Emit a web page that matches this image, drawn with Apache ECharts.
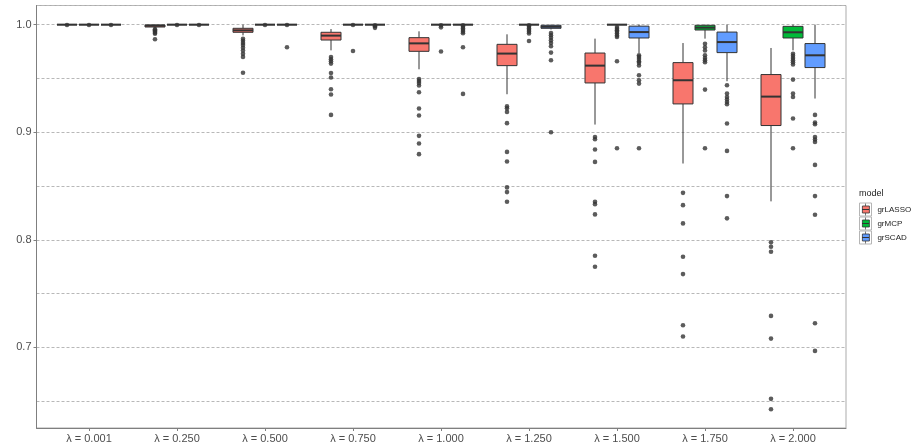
<!DOCTYPE html>
<html><head><meta charset="utf-8">
<script src="https://cdn.jsdelivr.net/npm/echarts@6/dist/echarts.min.js"></script>
<style>html,body{margin:0;padding:0;background:#fff}#c{width:913px;height:448px}</style>
</head><body><div id="c"></div>
<script>
// ---------- data ----------
const categories = ['λ = 0.001','λ = 0.250','λ = 0.500','λ = 0.750','λ = 1.000','λ = 1.250','λ = 1.500','λ = 1.750','λ = 2.000'];
const models = ['grLASSO','grMCP','grSCAD'];

// [lower whisker, Q1, median, Q3, upper whisker]
const lassoBoxes = [
  [1.0000, 1.0000, 1.0000, 1.0000, 1.0000],
  [0.9968, 0.9978, 0.9990, 0.9997, 1.0000],
  [0.9900, 0.9929, 0.9947, 0.9966, 1.0000],
  [0.9761, 0.9857, 0.9898, 0.9929, 0.9959],
  [0.9585, 0.9752, 0.9826, 0.9879, 0.9938],
  [0.9353, 0.9619, 0.9731, 0.9817, 0.9910],
  [0.9071, 0.9458, 0.9619, 0.9736, 0.9870],
  [0.8709, 0.9263, 0.9483, 0.9647, 0.9829],
  [0.8357, 0.9062, 0.9331, 0.9536, 0.9783]
];
const mcpBoxes = [
  [1.0000, 1.0000, 1.0000, 1.0000, 1.0000],
  [1.0000, 1.0000, 1.0000, 1.0000, 1.0000],
  [1.0000, 1.0000, 1.0000, 1.0000, 1.0000],
  [1.0000, 1.0000, 1.0000, 1.0000, 1.0000],
  [1.0000, 1.0000, 1.0000, 1.0000, 1.0000],
  [1.0000, 1.0000, 1.0000, 1.0000, 1.0000],
  [1.0000, 1.0000, 1.0000, 1.0000, 1.0000],
  [0.9870, 0.9950, 0.9972, 0.9994, 1.0000],
  [0.9761, 0.9876, 0.9929, 0.9984, 1.0000]
];
const scadBoxes = [
  [1.0000, 1.0000, 1.0000, 1.0000, 1.0000],
  [1.0000, 1.0000, 1.0000, 1.0000, 1.0000],
  [1.0000, 1.0000, 1.0000, 1.0000, 1.0000],
  [1.0000, 1.0000, 1.0000, 1.0000, 1.0000],
  [1.0000, 1.0000, 1.0000, 1.0000, 1.0000],
  [0.9955, 0.9966, 0.9980, 0.9994, 1.0000],
  [0.9736, 0.9876, 0.9931, 0.9986, 1.0000],
  [0.9474, 0.9740, 0.9838, 0.9931, 1.0000],
  [0.9313, 0.9601, 0.9715, 0.9824, 1.0000]
];

// outliers per category
const lassoOutliers = [
  [0.9997],
  [0.9958, 0.9947, 0.9936, 0.9925, 0.9916, 0.9864],
  [0.9868, 0.9850, 0.9830, 0.9810, 0.9785, 0.9760, 0.9730, 0.9700, 0.9553],
  [0.9699, 0.9678, 0.9660, 0.9638, 0.9551, 0.9508, 0.9399, 0.9350, 0.9161],
  [0.9495, 0.9476, 0.9458, 0.9434, 0.9371, 0.9220, 0.9155, 0.8966, 0.8895, 0.8796],
  [0.9240, 0.9222, 0.9189, 0.9084, 0.8817, 0.8728, 0.8487, 0.8443, 0.8353],
  [0.8956, 0.8935, 0.8839, 0.8724, 0.8353, 0.8331, 0.8236, 0.7851, 0.7749],
  [0.8436, 0.8322, 0.8152, 0.7842, 0.7681, 0.7205, 0.7100],
  [0.7976, 0.7935, 0.7889, 0.7292, 0.7081, 0.6521, 0.6425]
];
const mcpOutliers = [
  [0.9997],
  [0.9997],
  [0.9997],
  [0.9997, 0.9755],
  [0.9993, 0.9975, 0.9750],
  [0.9993, 0.9980, 0.9965, 0.9950, 0.9935, 0.9918, 0.9848],
  [0.9978, 0.9963, 0.9948, 0.9933, 0.9918, 0.9900, 0.9885, 0.9660, 0.8851],
  [0.9823, 0.9790, 0.9760, 0.9715, 0.9690, 0.9670, 0.9650, 0.9396, 0.8851],
  [0.9730, 0.9710, 0.9690, 0.9670, 0.9650, 0.9630, 0.9489, 0.9360, 0.9328, 0.9127, 0.8851]
];
const scadOutliers = [
  [0.9997],
  [0.9997],
  [0.9997, 0.9790],
  [0.9993, 0.9985, 0.9970],
  [0.9993, 0.9980, 0.9965, 0.9950, 0.9935, 0.9920, 0.9790, 0.9356],
  [0.9922, 0.9901, 0.9879, 0.9854, 0.9829, 0.9799, 0.9740, 0.9669, 0.9000],
  [0.9715, 0.9700, 0.9680, 0.9660, 0.9645, 0.9620, 0.9529, 0.9483, 0.9452, 0.8851],
  [0.9436, 0.9360, 0.9328, 0.9304, 0.9281, 0.9260, 0.9081, 0.8826, 0.8406, 0.8199],
  [0.9161, 0.9090, 0.9074, 0.8956, 0.8932, 0.8910, 0.8696, 0.8406, 0.8233, 0.7224, 0.6967]
];

// ---------- layout / style ----------
const FONT = 'Liberation Sans, Arial, sans-serif';
const colors = ['#F8766D', '#00BA38', '#619CFF'];
const Y_MIN = 0.625, Y_MAX = 1.0178;
const PANEL = {left: 36.5, top: 5.5, width: 809.5, height: 422.5};
const BAND = 88, FIRST_CENTER = 89;
const dodge = [-22, 0, 22];
const BOX_W = 20;
const INK = '#333333';

const boxes = [lassoBoxes, mcpBoxes, scadBoxes];
const outliers = [lassoOutliers, mcpOutliers, scadOutliers];

const grids = [Object.assign({show: true, borderColor: '#ababab', borderWidth: 1}, PANEL)];
dodge.forEach(d => grids.push({
  left: FIRST_CENTER - BAND / 2 + d, top: PANEL.top,
  width: BAND * categories.length, height: PANEL.height
}));

const xAxes = [{
  type: 'value', gridIndex: 0, min: 0, max: 1,
  axisLine: {show: true, lineStyle: {color: '#7f7f7f', width: 1}},
  axisTick: {show: false}, axisLabel: {show: false}, splitLine: {show: false}
}];
const yAxes = [{
  type: 'value', gridIndex: 0, min: Y_MIN, max: Y_MAX,
  minInterval: 0.1, maxInterval: 0.1,
  axisLine: {show: true, lineStyle: {color: '#7f7f7f', width: 1}},
  axisTick: {show: true, length: 3, lineStyle: {color: '#7f7f7f'}},
  axisLabel: {
    margin: 5, color: '#4d4d4d', fontSize: 11, fontFamily: FONT,
    showMinLabel: false, showMaxLabel: false,
    formatter: v => (Math.abs(v * 10 - Math.round(v * 10)) < 1e-6 ? v.toFixed(1) : '')
  },
  splitLine: {show: true, lineStyle: {color: '#b8b8b8', type: [3, 2], width: 1}},
  minorTick: {show: false, splitNumber: 2},
  minorSplitLine: {show: true, lineStyle: {color: '#b8b8b8', type: [3, 2], width: 1}}
}];
dodge.forEach((d, i) => {
  const center = i === 1;
  xAxes.push({
    type: 'category', gridIndex: i + 1, data: categories, boundaryGap: true,
    axisLine: {show: false},
    axisTick: {show: center, alignWithLabel: true, length: 3, lineStyle: {color: '#7f7f7f'}},
    axisLabel: {show: center, margin: 5, color: '#4d4d4d', fontSize: 11, fontFamily: FONT},
    splitLine: {show: false}
  });
  yAxes.push({type: 'value', gridIndex: i + 1, min: Y_MIN, max: Y_MAX, show: false, splitLine: {show: false}});
});

function makeBoxRenderer(fill) {
  return function (params, api) {
    const c = api.value(0);
    const lo = api.coord([c, api.value(1)]);
    const q1 = api.coord([c, api.value(2)]);
    const md = api.coord([c, api.value(3)]);
    const q3 = api.coord([c, api.value(4)]);
    const hi = api.coord([c, api.value(5)]);
    const x = lo[0], hw = BOX_W / 2;
    return {
      type: 'group',
      children: [
        {type: 'line', shape: {x1: x, y1: hi[1], x2: x, y2: q3[1]}, style: {stroke: INK, lineWidth: 1}},
        {type: 'line', shape: {x1: x, y1: q1[1], x2: x, y2: lo[1]}, style: {stroke: INK, lineWidth: 1}},
        {type: 'rect', shape: {x: x - hw, y: q3[1], width: BOX_W, height: q1[1] - q3[1]},
          style: {fill: fill, stroke: INK, lineWidth: 1}},
        {type: 'line', shape: {x1: x - hw, y1: md[1], x2: x + hw, y2: md[1]}, style: {stroke: INK, lineWidth: 2}}
      ]
    };
  };
}

const series = [];
models.forEach((m, i) => {
  series.push({
    name: m, type: 'custom', xAxisIndex: i + 1, yAxisIndex: i + 1,
    data: boxes[i].map((b, c) => [c].concat(b)),
    encode: {x: 0, y: [1, 2, 3, 4, 5]},
    renderItem: makeBoxRenderer(colors[i]),
    itemStyle: {color: colors[i]},
    z: 2
  });
  const pts = [];
  outliers[i].forEach((arr, c) => arr.forEach(v => pts.push([c, v])));
  series.push({
    name: m + ' outliers', type: 'scatter', xAxisIndex: i + 1, yAxisIndex: i + 1,
    data: pts, symbolSize: 4.6, itemStyle: {color: INK}, z: 3
  });
});

// legend key decorations
const keyCenters = [209.5, 223.5, 237.5];
const graphics = [];
keyCenters.forEach(cy => {
  graphics.push({type: 'rect', z: 1, shape: {x: 859.5, y: cy - 6.5, width: 12, height: 13},
    style: {fill: '#ffffff', stroke: '#b5b5b5', lineWidth: 1}});
  graphics.push({type: 'line', z: 1, shape: {x1: 865.5, y1: cy - 6, x2: 865.5, y2: cy - 3},
    style: {stroke: '#555', lineWidth: 0.8}});
  graphics.push({type: 'line', z: 1, shape: {x1: 865.5, y1: cy + 3, x2: 865.5, y2: cy + 6},
    style: {stroke: '#555', lineWidth: 0.8}});
  graphics.push({type: 'line', z: 100, shape: {x1: 862, y1: cy, x2: 869, y2: cy},
    style: {stroke: INK, lineWidth: 1}});
});

const chart = echarts.init(document.getElementById('c'), null, {renderer: 'canvas'});
chart.setOption({
  animation: false,
  backgroundColor: '#ffffff',
  title: {text: 'model', left: 859, top: 189, padding: 0,
    textStyle: {fontSize: 9, fontWeight: 'normal', color: '#222', fontFamily: FONT}},
  legend: {
    data: models.map((m, i) => ({name: m, itemStyle: {color: colors[i], borderColor: INK, borderWidth: 0.8}})),
    orient: 'vertical', left: 862, top: 205.5, padding: 0,
    itemWidth: 7, itemHeight: 7, itemGap: 6, icon: 'rect',
    textStyle: {fontSize: 8, color: '#222', fontFamily: FONT, padding: [0, 0, 0, 3]},
    selectedMode: false
  },
  grid: grids,
  xAxis: xAxes,
  yAxis: yAxes,
  series: series,
  graphic: graphics
});
</script>
</body></html>
